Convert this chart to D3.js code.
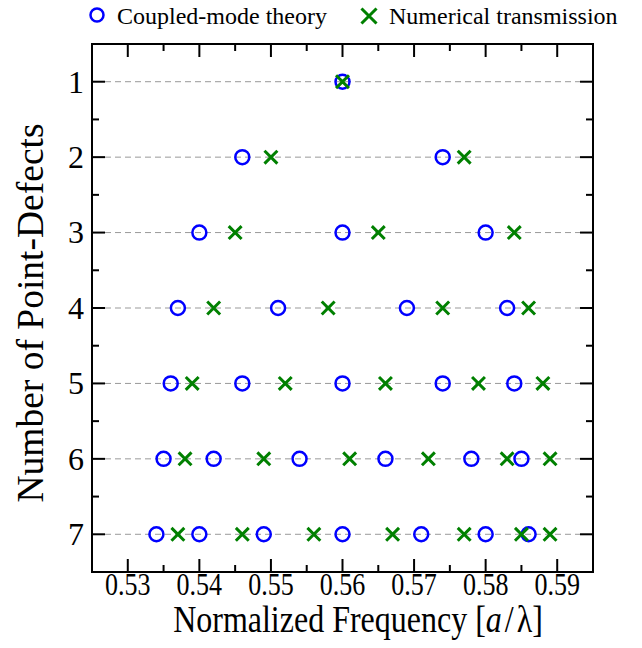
<!DOCTYPE html>
<html>
<head>
<meta charset="utf-8">
<script src="https://cdn.jsdelivr.net/npm/d3@7"></script>
<style>
  body { margin: 0; background: #fff; }
  text { font-family: "Liberation Serif", "Times New Roman", serif; fill: #000; }
</style>
</head>
<body>
<div id="chart-area"></div>
<script>
// number of point-defects on each row
var rows = [1, 2, 3, 4, 5, 6, 7];

// coupled-mode theory frequencies per row
var cmt = [
  [0.560],
  [0.546, 0.574],
  [0.540, 0.560, 0.580],
  [0.537, 0.551, 0.569, 0.583],
  [0.536, 0.546, 0.560, 0.574, 0.584],
  [0.535, 0.542, 0.554, 0.566, 0.578, 0.585],
  [0.534, 0.540, 0.549, 0.560, 0.571, 0.580, 0.586]
];

// numerical transmission peaks per row
var numerical = [
  [0.560],
  [0.550, 0.577],
  [0.545, 0.565, 0.584],
  [0.542, 0.558, 0.574, 0.586],
  [0.539, 0.552, 0.566, 0.579, 0.588],
  [0.538, 0.549, 0.561, 0.572, 0.583, 0.589],
  [0.537, 0.546, 0.556, 0.567, 0.577, 0.585, 0.589]
];

var xTicks = [0.53, 0.54, 0.55, 0.56, 0.57, 0.58, 0.59];

var margin = {top: 44, right: 49, bottom: 76, left: 92};
var width = 642 - margin.left - margin.right;
var height = 648 - margin.top - margin.bottom;

var svg = d3.select("#chart-area").append("svg")
  .attr("width", 642)
  .attr("height", 648);

var g = svg.append("g")
  .attr("transform", "translate(" + margin.left + "," + margin.top + ")");

var xscale = d3.scaleLinear().domain([0.525, 0.595]).range([0, width]);
var yscale = d3.scaleLinear().domain([0.5, 7.5]).range([0, height]);

// dashed guide lines
g.selectAll(".grid")
  .data(rows)
  .enter().append("line")
  .attr("x1", 13).attr("x2", width - 13)
  .attr("y1", function(d){ return yscale(d); })
  .attr("y2", function(d){ return yscale(d); })
  .attr("stroke", "#999")
  .attr("stroke-width", 1)
  .attr("stroke-dasharray", "6,4");

// ticks (inward) on all four sides
var xMinor = d3.range(0.525, 0.5951, 0.005);
var yMinor = d3.range(0.5, 7.51, 0.5);

function isMajorX(v){ return Math.abs(Math.round(v * 100) - v * 100) < 1e-6; }
function isMajorY(v){ return Math.abs(Math.round(v) - v) < 1e-6; }

g.selectAll(".xt")
  .data(xMinor.concat(xMinor.map(function(v){ return -v; })))
  .enter().append("line")
  .attr("x1", function(d){ return xscale(Math.abs(d)); })
  .attr("x2", function(d){ return xscale(Math.abs(d)); })
  .attr("y1", function(d){ return d > 0 ? height : 0; })
  .attr("y2", function(d){
    var len = isMajorX(Math.abs(d)) ? 13 : 7;
    return d > 0 ? height - len : len;
  })
  .attr("stroke", "#000").attr("stroke-width", 2);

g.selectAll(".yt")
  .data(yMinor.concat(yMinor.map(function(v){ return -v; })))
  .enter().append("line")
  .attr("y1", function(d){ return yscale(Math.abs(d)); })
  .attr("y2", function(d){ return yscale(Math.abs(d)); })
  .attr("x1", function(d){ return d > 0 ? 0 : width; })
  .attr("x2", function(d){
    var len = isMajorY(Math.abs(d)) ? 13 : 7;
    return d > 0 ? len : width - len;
  })
  .attr("stroke", "#000").attr("stroke-width", 2);

// frame
g.append("rect")
  .attr("width", width).attr("height", height)
  .attr("fill", "none").attr("stroke", "#000").attr("stroke-width", 2);

// tick labels (the source figure is stretched vertically)
g.selectAll(".xl")
  .data(xTicks)
  .enter().append("text")
  .attr("transform", function(d){ return "translate(" + xscale(d) + "," + (height + 23) + ") scale(1,1.23)"; })
  .attr("text-anchor", "middle")
  .style("font-size", "26px")
  .text(function(d){ return d.toFixed(2); });

g.selectAll(".yl")
  .data(rows)
  .enter().append("text")
  .attr("x", -8)
  .attr("y", function(d){ return yscale(d); })
  .attr("dy", "0.34em")
  .attr("text-anchor", "end")
  .style("font-size", "32px")
  .text(function(d){ return d; });

// axis titles
var xlabel = svg.append("text")
  .attr("transform", "translate(358,632) scale(1,1.2)")
  .attr("text-anchor", "middle")
  .style("font-size", "32px");
xlabel.append("tspan").text("Normalized Frequency [");
xlabel.append("tspan").style("font-style", "italic").text("a");
xlabel.append("tspan").attr("dx", 3).text("/");
xlabel.append("tspan").attr("dx", 3).text("\u03bb]");

svg.append("text")
  .attr("transform", "translate(43,313) rotate(-90)")
  .attr("text-anchor", "middle")
  .style("font-size", "37.5px")
  .text("Number of Point-Defects");

// markers
var cmtPts = [], numPts = [];
cmt.forEach(function(r, i){ r.forEach(function(v){ cmtPts.push({x: v, y: rows[i]}); }); });
numerical.forEach(function(r, i){ r.forEach(function(v){ numPts.push({x: v, y: rows[i]}); }); });

g.selectAll(".cmt")
  .data(cmtPts)
  .enter().append("circle")
  .attr("cx", function(d){ return xscale(d.x); })
  .attr("cy", function(d){ return yscale(d.y); })
  .attr("r", 7)
  .attr("fill", "none")
  .attr("stroke", "#0000ff")
  .attr("stroke-width", 2.5);

var cross = d3.symbol().type(d3.symbolX).size(110);

g.selectAll(".num")
  .data(numPts)
  .enter().append("path")
  .attr("d", cross)
  .attr("transform", function(d){ return "translate(" + xscale(d.x) + "," + yscale(d.y) + ")"; })
  .attr("fill", "none")
  .attr("stroke", "#008000")
  .attr("stroke-width", 3);

// legend
svg.append("circle")
  .attr("cx", 97).attr("cy", 15).attr("r", 6.5)
  .attr("fill", "none").attr("stroke", "#0000ff").attr("stroke-width", 2.5);
svg.append("text")
  .attr("x", 117).attr("y", 24)
  .style("font-size", "24px")
  .text("Coupled-mode theory");

svg.append("path")
  .attr("d", d3.symbol().type(d3.symbolX).size(150))
  .attr("transform", "translate(369,16)")
  .attr("fill", "none").attr("stroke", "#008000").attr("stroke-width", 3);
svg.append("text")
  .attr("x", 389).attr("y", 24)
  .style("font-size", "24px")
  .text("Numerical transmission");
</script>
</body>
</html>
